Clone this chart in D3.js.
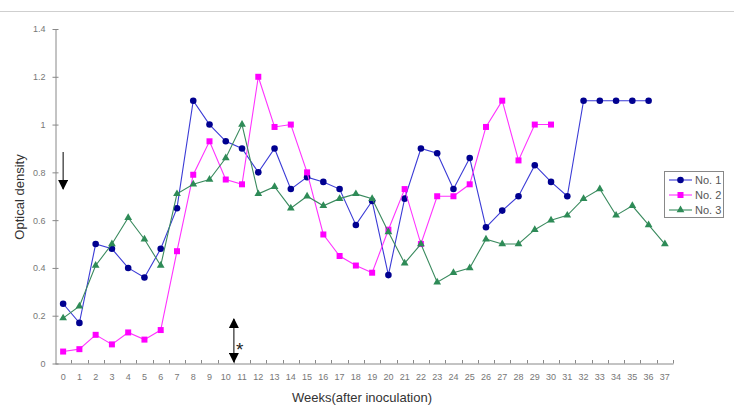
<!DOCTYPE html>
<html lang="en">
<head>
  <meta charset="UTF-8">
  <title>Optical density</title>
  <script src="https://cdn.jsdelivr.net/npm/d3@7"></script>
  <style>
    body { margin: 0; background: #fff; }
    svg { font-family: "Liberation Sans", Arial, sans-serif; }
    .tick-label { font-size: 9px; fill: #777; }
    .axis-label { font-size: 13px; fill: #333; }
    .legend-text { font-size: 11px; fill: #555; }
  </style>
</head>
<body>
  <script>
    // Weeks after inoculation
    const weeks = d3.range(0, 38);
    const yTicks = [0, 0.2, 0.4, 0.6, 0.8, 1, 1.2, 1.4];

    // Series values
    const no1 = [0.25, 0.17, 0.50, 0.48, 0.40, 0.36, 0.48, 0.65, 1.10, 1.00,
                 0.93, 0.90, 0.80, 0.90, 0.73, 0.78, 0.76, 0.73, 0.58, 0.68,
                 0.37, 0.69, 0.90, 0.88, 0.73, 0.86, 0.57, 0.64, 0.70, 0.83,
                 0.76, 0.70, 1.10, 1.10, 1.10, 1.10, 1.10];
    const no2 = [0.05, 0.06, 0.12, 0.08, 0.13, 0.10, 0.14, 0.47, 0.79, 0.93,
                 0.77, 0.75, 1.20, 0.99, 1.00, 0.80, 0.54, 0.45, 0.41, 0.38,
                 0.56, 0.73, 0.50, 0.70, 0.70, 0.75, 0.99, 1.10, 0.85, 1.00,
                 1.00];
    const no3 = [0.19, 0.24, 0.41, 0.50, 0.61, 0.52, 0.41, 0.71, 0.75, 0.77,
                 0.86, 1.00, 0.71, 0.74, 0.65, 0.70, 0.66, 0.69, 0.71, 0.69,
                 0.55, 0.42, 0.50, 0.34, 0.38, 0.40, 0.52, 0.50, 0.50, 0.56,
                 0.60, 0.62, 0.69, 0.73, 0.62, 0.66, 0.58, 0.50];

    const series = [
      { name: "No. 1", values: no1, line: "#3b3bd6", fill: "#000090", shape: d3.symbolCircle, size: 34 },
      { name: "No. 2", values: no2, line: "#ff33ff", fill: "#ff00ff", shape: d3.symbolSquare, size: 36 },
      { name: "No. 3", values: no3, line: "#3a8a5e", fill: "#2e8b57", shape: d3.symbolTriangle, size: 26 }
    ];

    const width = 734, height = 411;
    const svg = d3.select("body").append("svg")
      .attr("width", width)
      .attr("height", height);

    // thin gray rule at the top
    svg.append("line")
      .attr("x1", 0).attr("x2", width)
      .attr("y1", 11.5).attr("y2", 11.5)
      .attr("stroke", "#cfcfcf");

    const x = d3.scaleBand()
      .domain(weeks)
      .range([55, 673])
      .padding(0);

    const y = d3.scaleLinear()
      .domain([0, 1.4])
      .range([363.5, 29]);

    const cx = d => x(d) + x.bandwidth() / 2;

    // Y axis
    const yAxis = svg.append("g")
      .attr("transform", "translate(55.5,0)")
      .call(d3.axisLeft(y).tickValues(yTicks).tickSize(0).tickPadding(10).tickFormat(d3.format("")));
    yAxis.select(".domain").attr("stroke", "#888");
    yAxis.selectAll(".tick text").attr("class", "tick-label").attr("fill", null);
    yAxis.selectAll(".tick").append("line")
      .attr("x1", -3).attr("x2", 3)
      .attr("stroke", "#888");

    // X axis
    const xAxis = svg.append("g")
      .attr("transform", "translate(0,363.5)")
      .call(d3.axisBottom(x).tickSize(0).tickPadding(10).tickSizeOuter(0));
    xAxis.select(".domain").attr("stroke", "#888");
    xAxis.selectAll(".tick text").attr("class", "tick-label").attr("fill", null);
    svg.append("g")
      .selectAll("line")
      .data(weeks.slice(1).concat([38]))
      .join("line")
      .attr("x1", (d, i) => Math.round(x.range()[0] + (i + 1) * x.step()) + 0.5)
      .attr("x2", (d, i) => Math.round(x.range()[0] + (i + 1) * x.step()) + 0.5)
      .attr("y1", 363.5).attr("y2", 360)
      .attr("stroke", "#888");

    // lines and markers
    const line = d3.line()
      .x((d, i) => cx(weeks[i]))
      .y(d => y(d));

    series.forEach(s => {
      svg.append("path")
        .datum(s.values)
        .attr("fill", "none")
        .attr("stroke", s.line)
        .attr("stroke-width", 1.1)
        .attr("d", line);

      svg.append("g")
        .selectAll("path")
        .data(s.values)
        .join("path")
        .attr("transform", (d, i) => `translate(${cx(weeks[i])},${y(d)})`)
        .attr("d", d3.symbol().type(s.shape).size(s.size))
        .attr("fill", s.fill);
    });

    // axis titles
    svg.append("text")
      .attr("class", "axis-label")
      .attr("transform", "translate(24,197) rotate(-90)")
      .attr("text-anchor", "middle")
      .text("Optical density");

    svg.append("text")
      .attr("class", "axis-label")
      .attr("x", 362)
      .attr("y", 402)
      .attr("text-anchor", "middle")
      .text("Weeks(after inoculation)");

    // annotation arrows
    const defs = svg.append("defs");
    defs.append("marker")
      .attr("id", "head")
      .attr("viewBox", "0 0 10 10")
      .attr("refX", 9).attr("refY", 5)
      .attr("markerWidth", 11).attr("markerHeight", 10)
      .attr("markerUnits", "userSpaceOnUse")
      .attr("orient", "auto-start-reverse")
      .append("path")
      .attr("d", "M0,0 L10,5 L0,10 Z")
      .attr("fill", "#000");

    const wk0 = cx(0);
    svg.append("line")
      .attr("x1", wk0).attr("x2", wk0)
      .attr("y1", 152).attr("y2", 189)
      .attr("stroke", "#000").attr("stroke-width", 1)
      .attr("marker-end", "url(#head)");

    const mid = x(11);
    svg.append("line")
      .attr("x1", mid).attr("x2", mid)
      .attr("y1", 319).attr("y2", 362)
      .attr("stroke", "#000").attr("stroke-width", 1)
      .attr("marker-start", "url(#head)")
      .attr("marker-end", "url(#head)");

    svg.append("text")
      .attr("x", mid + 2)
      .attr("y", 356)
      .attr("font-size", "19px")
      .attr("fill", "#222")
      .text("*");

    // legend
    const legend = svg.append("g").attr("transform", "translate(664,171)");
    legend.append("rect")
      .attr("x", 0.5).attr("y", 0.5)
      .attr("width", 59).attr("height", 46)
      .attr("fill", "#fff")
      .attr("stroke", "#888");

    series.forEach((s, i) => {
      const g = legend.append("g").attr("transform", `translate(0,${9 + i * 15})`);
      g.append("line")
        .attr("x1", 5).attr("x2", 28)
        .attr("stroke", s.line).attr("stroke-width", 1.1);
      g.append("path")
        .attr("transform", "translate(16.5,0)")
        .attr("d", d3.symbol().type(s.shape).size(s.size))
        .attr("fill", s.fill);
      g.append("text")
        .attr("class", "legend-text")
        .attr("x", 31)
        .attr("y", 4)
        .text(s.name);
    });
  </script>
</body>
</html>
